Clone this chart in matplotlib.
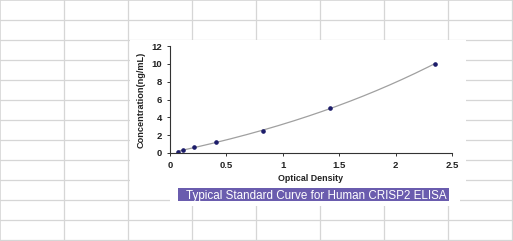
import numpy as np
import matplotlib
matplotlib.use("Agg")
import matplotlib.pyplot as plt
from matplotlib.patches import Rectangle

# standard curve readings
od = [0.068, 0.112, 0.21, 0.41, 0.826, 1.417, 2.345]
conc = [0.156, 0.312, 0.625, 1.25, 2.5, 5.0, 10.0]
xticks = [0, 0.5, 1, 1.5, 2, 2.5]
xticklabels = ["0", "0.5", "1", "1.5", "2", "2.5"]
yticks = [0, 2, 4, 6, 8, 10, 12]
title = "Typical Standard Curve for Human CRISP2 ELISA"

plt.rcParams["font.family"] = ["Liberation Sans", "DejaVu Sans"]

W, H = 513, 241
fig = plt.figure(figsize=(W / 100, H / 100), dpi=100)

def fx(px):
    return px / W

def fy(py):
    return 1 - py / H

# spreadsheet grid in the background
grid_c = "#d6d6d6"
for gx in range(64, W, 64):
    fig.add_artist(plt.Line2D([fx(gx), fx(gx)], [0, 1], color=grid_c, lw=0.9, zorder=-3))
for gy in range(20, H, 20):
    fig.add_artist(plt.Line2D([0, 1], [fy(gy), fy(gy)], color=grid_c, lw=0.9, zorder=-3))
fig.add_artist(Rectangle((0, 0), 1, 1, transform=fig.transFigure, fill=False,
                         ec=grid_c, lw=1.2, zorder=-3))

# white chart area covering the grid
fig.add_artist(Rectangle((fx(130), fy(182)), fx(466 - 130), (182 - 40) / H,
                         transform=fig.transFigure, fc="white", ec="none", zorder=-2))
fig.add_artist(Rectangle((fx(170), fy(206)), fx(460 - 170), (206 - 180) / H,
                         transform=fig.transFigure, fc="white", ec="none", zorder=-2))

ax = fig.add_axes([fx(170), fy(153), fx(452 - 170), (153 - 46) / H])
ax.patch.set_alpha(0)

coef = np.polyfit(od, conc, 3)
xs = np.linspace(min(od), max(od), 200)
ax.plot(xs, np.polyval(coef, xs), color="#a0a0a0", lw=0.9)
ax.plot(od, conc, "o", color="#1c1c6a", ms=2.3)

ax.set_xlim(0, 2.5)
ax.set_ylim(0, 12)
ax.set_xticks(xticks)
ax.set_xticklabels(xticklabels)
ax.set_yticks(yticks)
for s in ("top", "right"):
    ax.spines[s].set_visible(False)
for s in ("left", "bottom"):
    ax.spines[s].set_color("#333333")
    ax.spines[s].set_linewidth(0.8)
ax.tick_params(length=2.5, width=0.7, color="#333333", labelsize=6.8, pad=3)
for lab in ax.get_xticklabels() + ax.get_yticklabels():
    lab.set_fontweight("bold")
    lab.set_color("#222222")
ax.set_xlabel("Optical Density", fontsize=6.4, fontweight="bold", color="#222222", labelpad=3)
ax.set_ylabel("Concentration(ng/mL)", fontsize=6.6, fontweight="bold", color="#222222", labelpad=4)

# purple caption banner
fig.add_artist(Rectangle((fx(178), fy(201)), fx(449 - 178), (201 - 188) / H,
                         transform=fig.transFigure, fc="#6a5cae", ec="none", zorder=1))
fig.text(fx(186), fy(198.5), title, color="white", fontsize=8.35,
         va="baseline", ha="left", zorder=2)

fig.savefig("out.png", dpi=100)
